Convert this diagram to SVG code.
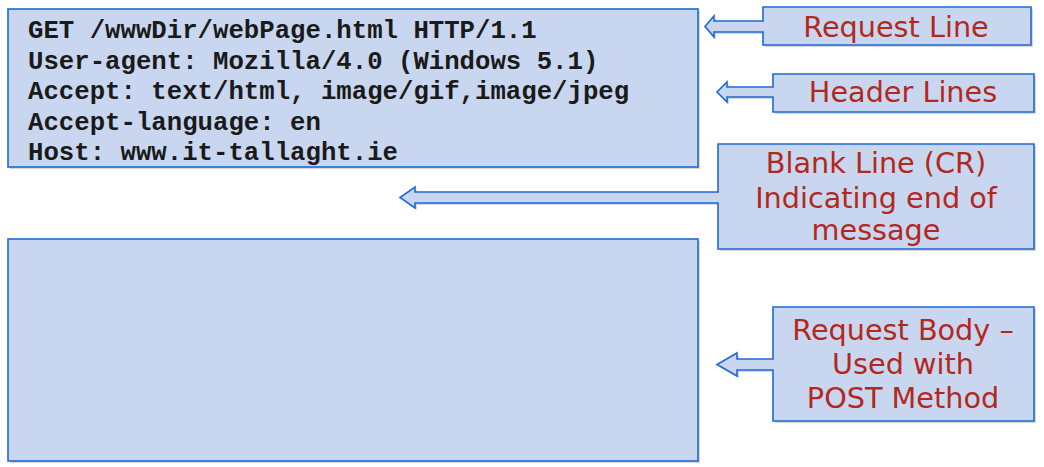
<svg xmlns="http://www.w3.org/2000/svg" width="1044" height="467" viewBox="0 0 1044 467">
<defs>
<style>
.box{fill:#c8d7ef;stroke:#1c6ad8;stroke-width:1.6}
.sh{fill:#bdbdbd;opacity:0.6}
.code{font-family:"Liberation Mono","Courier New",monospace;font-weight:bold;font-size:25.7px;fill:#1a1a1a}
.lbl{font-family:"DejaVu Sans",Verdana,sans-serif;font-size:28.7px;fill:#b3281d;text-anchor:middle}
</style>
</defs>
<rect width="1044" height="467" fill="#ffffff"/>
<g id="request-message">
<rect class="sh" x="10" y="11" width="690" height="158"/>
<rect class="box" x="8" y="9" width="690" height="158"/>
<text class="code" x="28" y="38">GET /wwwDir/webPage.html HTTP/1.1</text>
<text class="code" x="28" y="68.5">User-agent: Mozilla/4.0 (Windows 5.1)</text>
<text class="code" x="28" y="99">Accept: text/html, image/gif,image/jpeg</text>
<text class="code" x="28" y="129.5">Accept-language: en</text>
<text class="code" x="28" y="160">Host: www.it-tallaght.ie</text>
</g>
<g id="request-body">
<rect class="sh" x="10" y="241" width="690" height="222"/>
<rect class="box" x="8" y="239" width="690" height="222"/>
</g>
<g id="connectors">
<g id="callout-request-line">
<path class="sh" transform="translate(2,2)" d="M763,7 H1031 V45 H763 V32 H714 V37 L705,26.5 L714,16 V21 H763 Z"/>
<path class="box" d="M763,7 H1031 V45 H763 V32 H714 V37 L705,26.5 L714,16 V21 H763 Z"/>
<text class="lbl" x="896" y="37">Request Line</text>
</g>
<g id="callout-header-lines">
<path class="sh" transform="translate(2,2)" d="M773,74 H1034 V112 H773 V97 H727 V102 L717,92 L727,82 V87 H773 Z"/>
<path class="box" d="M773,74 H1034 V112 H773 V97 H727 V102 L717,92 L727,82 V87 H773 Z"/>
<text class="lbl" x="903" y="102">Header Lines</text>
</g>
<g id="callout-blank-line">
<path class="sh" transform="translate(2,2)" d="M718,144 H1034 V249 H718 V203 H415 V208 L400,197.5 L415,187 V192 H718 Z"/>
<path class="box" d="M718,144 H1034 V249 H718 V203 H415 V208 L400,197.5 L415,187 V192 H718 Z"/>
<text class="lbl" x="876" y="173">Blank Line (CR)</text>
<text class="lbl" x="876" y="207.5">Indicating end of</text>
<text class="lbl" x="876" y="240">message</text>
</g>
<g id="callout-request-body">
<path class="sh" transform="translate(2,2)" d="M773,307 H1034 V421 H773 V370 H737 V376 L717,364.5 L737,353 V359 H773 Z"/>
<path class="box" d="M773,307 H1034 V421 H773 V370 H737 V376 L717,364.5 L737,353 V359 H773 Z"/>
<text class="lbl" x="903" y="340">Request Body –</text>
<text class="lbl" x="903" y="374">Used with</text>
<text class="lbl" x="903" y="408">POST Method</text>
</g>
</g>
</svg>
